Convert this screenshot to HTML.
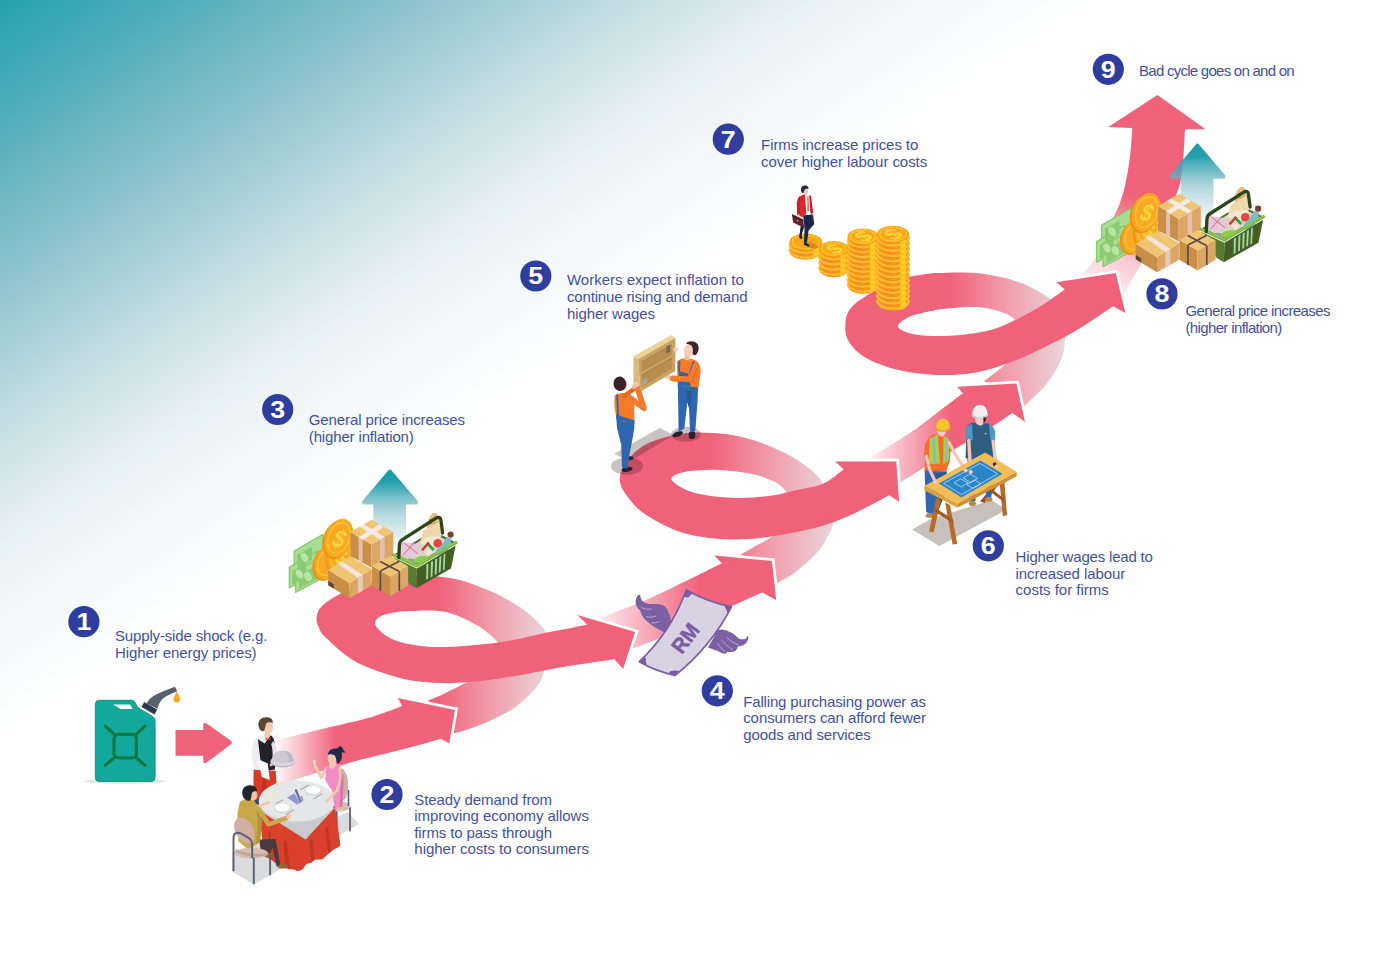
<!DOCTYPE html>
<html lang="en"><head><meta charset="utf-8"><title>Inflation cycle</title>
<style>
html,body{margin:0;padding:0;background:#fff;}
body{width:1379px;height:976px;overflow:hidden;}
svg{display:block}
text{font-family:"Liberation Sans",sans-serif;}
.t{font-size:15px;fill:#3F51A5;letter-spacing:-0.2px}
.n{font-size:23.5px;font-weight:bold;fill:#fff;text-anchor:middle}
</style></head><body>
<svg width="1379" height="976" viewBox="0 0 1379 976">
<defs>
<linearGradient id="bg" gradientUnits="userSpaceOnUse" x1="0" y1="0" x2="341.5" y2="508">
<stop offset="0" stop-color="#24A2AF"/><stop offset="0.185" stop-color="#56AFBC"/><stop offset="0.38" stop-color="#8DC3CD"/><stop offset="0.575" stop-color="#C3DDE3"/><stop offset="0.727" stop-color="#E6F0F3"/><stop offset="0.867" stop-color="#F5F9FA"/><stop offset="1" stop-color="#FFFFFF"/>
</linearGradient>
<linearGradient id="gA" gradientUnits="userSpaceOnUse" x1="274" y1="0" x2="337" y2="0"><stop offset="0" stop-color="#F0617A" stop-opacity="0"/><stop offset="1" stop-color="#F0617A" stop-opacity="1"/></linearGradient>
<linearGradient id="gB" gradientUnits="userSpaceOnUse" x1="438" y1="0" x2="548" y2="0"><stop offset="0" stop-color="#F0617A" stop-opacity="1"/><stop offset="0.5" stop-color="#F19FAC" stop-opacity="1"/><stop offset="1" stop-color="#EAD6DB" stop-opacity="1"/></linearGradient>
<linearGradient id="gC" gradientUnits="userSpaceOnUse" x1="598" y1="0" x2="700" y2="0"><stop offset="0" stop-color="#F0617A" stop-opacity="0.12"/><stop offset="1" stop-color="#F0617A" stop-opacity="1"/></linearGradient>
<linearGradient id="gD" gradientUnits="userSpaceOnUse" x1="710" y1="0" x2="834" y2="0"><stop offset="0" stop-color="#F0617A" stop-opacity="1"/><stop offset="0.5" stop-color="#F19FAC" stop-opacity="1"/><stop offset="1" stop-color="#EAD6DB" stop-opacity="1"/></linearGradient>
<linearGradient id="gE" gradientUnits="userSpaceOnUse" x1="872" y1="0" x2="952" y2="0"><stop offset="0" stop-color="#F0617A" stop-opacity="0.12"/><stop offset="1" stop-color="#F0617A" stop-opacity="1"/></linearGradient>
<linearGradient id="gF" gradientUnits="userSpaceOnUse" x1="950" y1="0" x2="1066" y2="0"><stop offset="0" stop-color="#F0617A" stop-opacity="1"/><stop offset="0.5" stop-color="#F19FAC" stop-opacity="1"/><stop offset="1" stop-color="#EAD6DB" stop-opacity="1"/></linearGradient>
<linearGradient id="gG" gradientUnits="userSpaceOnUse" x1="1092" y1="292" x2="1140" y2="200"><stop offset="0" stop-color="#F0617A" stop-opacity="0.05"/><stop offset="0.45" stop-color="#F0617A" stop-opacity="0.36"/><stop offset="1" stop-color="#F0617A" stop-opacity="1"/></linearGradient><linearGradient id="tealg" x1="0" y1="0" x2="0" y2="1">
<stop offset="0" stop-color="#1A9CAB"/><stop offset="0.16" stop-color="#22A0AE"/><stop offset="0.40" stop-color="#5EB0BE" stop-opacity="0.75"/><stop offset="0.55" stop-color="#7FBCC6" stop-opacity="0.6"/><stop offset="0.7" stop-color="#90C3CE" stop-opacity="0.45"/><stop offset="0.9" stop-color="#90C3CE" stop-opacity="0.2"/><stop offset="1" stop-color="#90C3CE" stop-opacity="0"/>
</linearGradient>
<g id="tealarrow">
<path d="M388.2,470.6 Q389.9,468.2 391.6,470.6 L417.3,500.6 Q419.4,504.6 415.4,504.6 H406 V548 H373.3 V504.6 H364.6 Q360.6,504.6 362.8,500.6 Z" fill="url(#tealg)"/>
</g>
<g id="goods">
<!-- bills -->
<g stroke="#7FC768" stroke-width="1.1" fill="#A9DD92" stroke-linejoin="round">
<path d="M294.1,551 L323.1,534.3 V555.1 L294.1,571.8 Z"/>
<path d="M289.2,567.3 L317.1,551.2 V572 L289.2,588.1 Z"/>
<path d="M295.6,571.7 L324.6,555 L330,556 V574 L295.6,592.6 Z"/>
</g>
<g fill="#8ACB72"><path d="M297.5,555 L312,546.6 V560 L297.5,568.4 Z"/><path d="M292.4,571 L306,563.2 V577 L292.4,584.8 Z"/><path d="M299,575.4 L318,564.4 V578 L299,588.8 Z"/></g>
<g fill="#B9E6A5"><ellipse cx="304.6" cy="557.4" rx="3.4" ry="5" transform="rotate(-30 304.6 557.4)"/><ellipse cx="299.4" cy="574" rx="3.2" ry="4.8" transform="rotate(-30 299.4 574)"/><ellipse cx="308" cy="576.6" rx="3.6" ry="5" transform="rotate(-30 308 576.6)"/></g>
<!-- coins -->
<g>
<ellipse cx="325.6" cy="563.8" rx="12.6" ry="17.6" transform="rotate(20 325.6 563.8)" fill="#EE9416"/>
<ellipse cx="327.6" cy="562.2" rx="12.4" ry="17.4" transform="rotate(20 327.6 562.2)" fill="#F9A825"/>
<ellipse cx="327.6" cy="562.2" rx="9.4" ry="13.8" transform="rotate(20 327.6 562.2)" fill="none" stroke="#FDC830" stroke-width="1.2"/>
<ellipse cx="338.6" cy="557" rx="12.6" ry="17.6" transform="rotate(20 338.6 557)" fill="#EE9416"/>
<ellipse cx="340.6" cy="555.4" rx="12.4" ry="17.4" transform="rotate(20 340.6 555.4)" fill="#F9A825"/>
<ellipse cx="340.6" cy="555.4" rx="9.4" ry="13.8" transform="rotate(20 340.6 555.4)" fill="none" stroke="#FDC830" stroke-width="1.2"/>
<text x="0" y="0" transform="translate(341.4 557) rotate(14) skewX(-12) scale(0.8 1)" font-size="21" font-weight="bold" fill="#FFD63E" text-anchor="middle" dominant-baseline="central">$</text>
<ellipse cx="336.8" cy="539.8" rx="13.8" ry="20" transform="rotate(20 336.8 539.8)" fill="#EE9416"/>
<ellipse cx="339" cy="538" rx="13.6" ry="19.8" transform="rotate(20 339 538)" fill="#F9A825"/>
<ellipse cx="339" cy="538" rx="10.4" ry="15.8" transform="rotate(20 339 538)" fill="none" stroke="#FDC830" stroke-width="1.3"/>
<text x="0" y="0" transform="translate(339.6 538.6) rotate(14) skewX(-12) scale(0.8 1)" font-size="25" font-weight="bold" fill="#FFD63E" text-anchor="middle" dominant-baseline="central">$</text>
</g>
<!-- box 1 tall -->
<path d="M350.4,532.1 L371.2,544.6 V567.4 L350.4,556.1 Z" fill="#C98F48"/>
<path d="M371.2,544.6 L393.3,532.1 V556.1 L371.2,567.4 Z" fill="#DCA765"/>
<path d="M350.4,532.1 L371.7,519.7 L393.3,532.1 L371.2,544.6 Z" fill="#F0C572"/>
<path d="M359.6,526.6 L363.8,524.3 L384.6,536.9 L380,539.5 Z M358.6,537.2 L379,524.3 L383.8,527 L362.6,540 Z" fill="#F8E9E4"/>
<path d="M358.6,537.2 L362.6,539.6 V563 L358.6,560.8 Z M380,539.6 L384.6,537 V561 L380,563.4 Z" fill="#E3C0AC"/>
<!-- basket -->
<g>
<!-- back rim & contents -->
<path d="M393.4,555 L432.9,530.6 L456,542.6 L417,566 Z" fill="#4D6E2A"/>
<path d="M397,555 L432.9,533 L452,543 L417,563.6 Z" fill="#D9D4C6"/>
<ellipse cx="433" cy="523.6" rx="5.6" ry="11" transform="rotate(12 433 523.6)" fill="#E9BC7E"/>
<path d="M428.6,520 L437.6,517.6 M428,524.5 L438.6,522 M428.4,529 L439,526.4" stroke="#C9965A" stroke-width="1" fill="none"/>
<path d="M422.8,530.8 L440.3,520.7 L441.4,536 L420,543 Z" fill="#EFD7AE"/>
<path d="M420,543 L428,536.6 L441.4,536 L432,548 Z" fill="#F5E8D2"/>
<path d="M402,541.9 L415.4,543.7 L420,552.9 L405.3,557.6 L398.6,551 Z" fill="#E8C6E0"/>
<path d="M404,543 L417.6,553.6 M413.4,543.6 L402.6,555.6" stroke="#D2544E" stroke-width="0.8" fill="none"/>
<path d="M427.9,541.8 L434.6,549 L428.6,556 L421,549.4 Z" fill="#F5E3D6"/>
<path d="M427.9,541.8 L434.6,549 L432.6,551 L426,544 Z" fill="#2E9E4A"/>
<path d="M427.9,541.8 L421,549.4 L423,551.2 L429.6,543.6 Z" fill="#D23B2E"/>
<circle cx="437.7" cy="543.2" r="4.3" fill="#E9443E"/>
<path d="M435.6,552.6 C437.6,546.6 442.6,546 446.6,536.4 L451.6,539 C449.6,548.6 446.6,553.6 440.6,557.6 Z" fill="#7DBAC2"/>
<circle cx="450.6" cy="534.6" r="3.1" fill="#7B3F2E"/>
<ellipse cx="421" cy="559.6" rx="7.6" ry="3.4" transform="rotate(-14 421 559.6)" fill="#8FCB4C"/>
<ellipse cx="410" cy="561" rx="4.4" ry="2.4" fill="#9A9EA0"/>
<!-- body -->
<path d="M393.6,557.6 L417,568.6 L416.3,588.2 L409.2,584 L394.6,559 Z" fill="#587C2F"/>
<path d="M417,568.6 L455.6,545.6 L451,568.6 L416.3,588.2 Z" fill="#435F24"/>
<path d="M426.4,564.6 L428.4,563.4 L428,578.8 L426.2,579.8 Z M431,561.9 L433,560.7 L432.4,576.4 L430.6,577.4 Z M435.2,559.4 L437.2,558.2 L436.6,574 L434.8,575 Z M439.4,556.9 L441.4,555.7 L440.6,571.7 L438.8,572.7 Z M443.6,554.4 L445.4,553.3 L444.6,569.4 L442.9,570.4 Z" fill="#A6D9A8"/>
<path d="M393.4,555 L417,566 L456,542.6" stroke="#7DB83F" stroke-width="3.2" fill="none" stroke-linejoin="round" stroke-linecap="round"/>
<path d="M393.4,554.2 L417,565.2 L456,541.8" stroke="#9BD155" stroke-width="1" fill="none" stroke-linejoin="round" stroke-linecap="round"/>
<!-- handle -->
<path d="M398.8,557.6 L399.4,545 Q399.6,541.4 402.8,539.4 L436,518.2 Q440.4,515.6 441,520.6 L442.6,533" stroke="#2B4518" stroke-width="3.3" fill="none" stroke-linejoin="round" stroke-linecap="round"/>
<path d="M402.6,538.4 L404.6,536.6 L407.6,534.8" stroke="#3E6A22" stroke-width="1" fill="none"/>
</g>
<!-- box 2 wide -->
<path d="M328.1,570 L349.5,582.9 V598.2 L328.1,585.2 Z" fill="#C98F48"/>
<path d="M349.5,582.9 L371.7,569 V585.6 L349.5,598.2 Z" fill="#DCA765"/>
<path d="M328.1,570 L350.4,556.6 L371.7,569 L349.5,582.9 Z" fill="#F0C572"/>
<path d="M337.5,563.5 L341.7,561.2 L362.9,575 L357.8,577.8 Z" fill="#F8E3E0"/>
<path d="M357.8,577.8 L362.9,575 V590.6 L357.8,593.5 Z" fill="#E8C9B4"/>
<path d="M328.3,581 L333.8,584.3 V588.4 L328.3,585.2 Z" fill="#5A4632"/>
<!-- box 3 small -->
<path d="M371.9,565.8 L390.1,576.4 V596.3 L371.9,585.6 Z" fill="#C98F48"/>
<path d="M390.1,576.4 L408.1,566.3 V585.6 L390.1,596.3 Z" fill="#DCA765"/>
<path d="M371.9,565.8 L390.1,556.1 L408.1,566.3 L390.1,576.4 Z" fill="#F0C572"/>
<path d="M380.2,561.4 L399.3,571.6 M380.4,570.9 L399.3,561.2 M380.4,570.9 V591 M399.3,571.6 V591" stroke="#5B4B4E" stroke-width="1.7" fill="none"/>
</g>

</defs>
<rect x="0" y="0" width="1379" height="976" fill="url(#bg)"/>
<g id="ribbon">
<path d="M452.0,734.0 C455.3,733.0 465.0,730.4 471.7,728.0 C478.4,725.6 485.0,723.2 492.2,719.8 C499.4,716.4 508.0,712.3 514.8,707.5 C521.6,702.7 528.6,696.2 533.2,691.1 C537.8,686.0 540.1,682.8 542.4,676.8 C544.7,670.8 546.4,662.2 547.0,655.0 C547.6,647.8 547.2,639.0 545.9,633.8 C544.6,628.5 543.1,627.6 539.3,623.5 C535.5,619.4 529.1,613.6 523.0,609.2 C516.9,604.8 509.3,600.5 502.5,596.9 C495.7,593.3 488.8,590.4 482.0,587.7 C475.2,585.0 468.3,582.3 461.5,580.5 C454.7,578.7 447.9,577.6 441.0,576.8 C434.1,576.0 426.2,575.6 420.0,575.5 C413.8,575.4 406.7,575.8 404.0,575.9 L404.0,611.4 C406.7,611.3 414.5,610.7 420.0,610.6 C425.5,610.5 431.7,610.2 436.9,610.7 C442.1,611.2 446.1,612.0 451.2,613.6 C456.3,615.2 462.5,617.8 467.6,620.3 C472.7,622.8 477.9,625.6 482.0,628.4 C486.1,631.1 489.4,634.2 492.2,636.8 C495.0,639.4 497.2,641.0 499.0,644.0 C500.8,647.0 503.5,651.0 503.0,655.0 C502.5,659.0 501.6,663.7 496.0,668.0 C490.4,672.3 476.8,677.4 469.7,680.9 C462.6,684.4 458.1,686.7 453.3,689.1 C448.5,691.5 445.2,693.3 441.0,695.2 C436.8,697.1 430.2,699.6 428.0,700.5 Z" fill="url(#gB)"/>
<path d="M772.0,585.0 C772.9,584.6 773.3,584.9 777.3,582.7 C781.3,580.5 789.1,577.0 795.8,571.9 C802.5,566.8 812.1,558.5 817.5,552.3 C822.9,546.1 825.9,539.6 828.4,534.9 C830.9,530.2 831.9,529.0 832.8,524.0 C833.6,519.0 835.1,511.7 833.5,505.0 C831.9,498.3 826.4,489.3 823.0,483.8 C819.6,478.3 818.5,476.3 813.2,471.8 C807.9,467.3 799.7,461.3 791.4,456.6 C783.1,451.9 773.4,447.1 763.2,443.5 C753.1,439.9 741.4,436.6 730.5,434.8 C719.6,433.0 705.6,432.8 697.9,432.6 C690.1,432.4 686.3,433.4 684.0,433.6 L684.0,470.9 C686.3,470.8 691.9,470.4 697.9,470.3 C703.9,470.2 710.6,469.4 719.7,470.0 C728.8,470.6 743.2,472.1 752.3,474.0 C761.3,475.9 768.5,478.9 774.0,481.6 C779.5,484.3 782.3,487.2 785.0,490.3 C787.7,493.4 789.2,495.1 790.0,500.0 C790.8,504.9 793.0,513.9 790.0,520.0 C787.0,526.1 778.2,532.0 771.9,536.6 C765.6,541.2 757.9,544.7 752.3,547.9 C746.6,551.1 740.4,554.6 738.0,556.0 Z" fill="url(#gD)"/>
<path d="M1022.0,408.0 C1022.8,407.3 1022.8,407.7 1026.9,403.7 C1031.0,399.7 1040.8,391.3 1046.5,384.1 C1052.2,376.9 1057.8,367.6 1060.8,360.6 C1063.8,353.6 1064.3,348.7 1064.8,342.3 C1065.2,335.9 1064.8,328.1 1063.5,322.0 C1062.2,315.9 1060.6,310.7 1056.9,305.8 C1053.2,300.9 1048.2,296.9 1041.2,292.7 C1034.2,288.5 1026.0,284.2 1015.1,280.9 C1004.2,277.6 989.0,274.4 975.9,273.1 C962.8,271.8 946.1,272.8 936.8,273.1 C927.5,273.5 922.8,274.9 920.0,275.2 L920.0,313.4 C922.8,312.8 927.5,310.8 936.8,309.7 C946.1,308.6 965.0,306.7 975.9,307.1 C986.8,307.5 995.6,310.1 1002.1,312.3 C1008.6,314.5 1012.0,316.8 1015.1,320.1 C1018.2,323.4 1020.2,327.0 1021.0,332.0 C1021.8,337.0 1023.1,344.1 1020.0,350.0 C1016.9,355.9 1008.1,362.0 1002.1,367.2 C996.1,372.4 987.0,378.7 984.0,381.0 Z" fill="url(#gF)"/>
<path d="M1076.0,281.0 C1076.8,280.0 1078.1,278.4 1081.1,274.9 C1084.1,271.4 1090.0,266.2 1094.0,260.1 C1098.0,254.0 1101.6,245.4 1105.0,238.0 C1108.4,230.6 1111.8,221.7 1114.3,215.9 C1116.8,210.1 1118.0,208.2 1119.8,203.0 C1121.6,197.8 1123.6,192.2 1125.3,184.5 C1127.0,176.8 1128.7,166.3 1129.9,156.9 C1131.1,147.5 1132.0,132.8 1132.4,128.0 L1108.2,126.9 L1157.4,95.1 L1205.6,129.2 L1185.0,129.2 C1184.7,133.8 1184.1,148.3 1183.4,156.9 C1182.7,165.5 1182.0,174.2 1180.6,180.9 C1179.2,187.7 1177.9,190.1 1175.1,197.4 C1172.3,204.8 1168.2,216.2 1164.0,225.0 C1159.8,233.8 1154.0,243.2 1150.0,250.0 C1146.0,256.8 1144.0,259.3 1140.0,266.0 C1136.0,272.7 1129.5,283.7 1126.0,290.0 C1122.5,296.3 1120.2,301.7 1119.0,304.0 Z" fill="url(#gG)"/>
<path d="M397.8,698.1 L455.0,710.0 L449.2,743.4 Z" fill="#fff" stroke="#fff" stroke-width="5.5" stroke-linejoin="miter"/>
<path d="M268.0,743.0 C269.6,742.5 269.1,742.3 277.4,740.1 C285.7,737.9 304.0,733.4 318.0,730.0 C332.0,726.6 350.3,722.7 361.5,719.8 C372.7,716.9 378.2,714.7 385.0,712.4 C391.8,710.1 399.2,707.0 402.1,705.9 L397.8,698.1 L455.0,710.0 L449.2,743.4 L441.0,738.7 C435.0,740.4 420.7,744.7 405.0,748.8 C389.3,752.9 364.5,758.5 347.0,763.4 C329.5,768.3 311.5,774.2 300.0,778.0 C288.5,781.8 281.7,784.7 278.0,786.0 Z" fill="url(#gA)"/>
<path d="M714.2,555.5 L771.9,561.0 L776.2,600.1 Z" fill="#fff" stroke="#fff" stroke-width="5.5" stroke-linejoin="miter"/>
<path d="M596.0,619.5 C597.1,619.0 593.9,620.1 602.4,616.8 C610.9,613.4 632.3,605.8 647.0,599.4 C661.7,593.0 678.0,584.7 690.5,578.7 C703.0,572.7 716.6,565.8 721.8,563.2 L714.2,555.5 L771.9,561.0 L776.2,600.1 L762.1,592.5 C756.7,594.9 741.7,601.6 729.7,607.0 C717.7,612.4 701.6,619.8 690.0,625.0 C678.4,630.2 669.0,634.3 660.0,638.0 C651.0,641.7 642.8,644.8 636.1,647.3 C629.4,649.8 622.7,652.0 620.0,653.0 Z" fill="url(#gC)"/>
<path d="M957.1,386.8 L1016.4,383.6 L1025.0,422.0 Z" fill="#fff" stroke="#fff" stroke-width="5.5" stroke-linejoin="miter"/>
<path d="M872.0,456.5 C873.2,455.8 872.9,456.1 879.3,452.1 C885.7,448.1 901.0,439.0 910.6,432.5 C920.2,426.0 928.1,419.4 936.8,412.9 C945.5,406.4 958.5,396.6 962.9,393.3 L957.1,386.8 L1016.4,383.6 L1025.0,422.0 L1012.5,412.9 C1008.6,415.5 999.4,422.0 989.0,428.5 C978.6,435.0 964.4,443.3 950.0,452.0 C935.6,460.7 912.8,474.7 902.8,480.8 C892.8,486.9 892.1,487.2 890.0,488.5 Z" fill="url(#gE)"/>
<path d="M577.4,615.1 L635.1,632.0 L623.1,669.0 Z" fill="#fff" stroke="#fff" stroke-width="5.5" stroke-linejoin="miter"/>
<path d="M420.0,575.5 C416.7,575.6 408.3,574.9 400.0,576.0 C391.7,577.1 380.0,579.0 370.0,582.0 C360.0,585.0 348.0,590.0 340.0,594.0 C332.0,598.0 325.9,602.2 322.0,606.0 C318.1,609.8 317.1,613.2 316.6,616.9 C316.1,620.6 317.3,624.4 319.0,628.0 C320.7,631.6 320.6,633.0 326.7,638.6 C332.8,644.2 343.6,655.3 355.7,661.8 C367.8,668.3 386.1,674.3 399.2,677.8 C412.2,681.3 422.4,682.0 434.0,682.7 C445.6,683.4 454.3,683.4 468.8,682.1 C483.3,680.8 504.6,677.5 521.0,674.9 C537.5,672.2 551.9,668.8 567.5,666.2 C583.1,663.6 606.6,660.4 614.4,659.2 L623.1,669.0 L635.1,632.0 L577.4,615.1 L587.2,624.4 C583.3,625.2 570.9,627.9 564.0,629.3 C557.1,630.7 552.7,631.3 545.9,632.7 C539.1,634.1 531.0,636.2 523.0,637.9 C515.0,639.5 507.2,641.3 498.0,642.6 C488.8,643.9 477.1,645.0 467.6,645.7 C458.1,646.5 448.9,647.1 441.0,647.1 C433.1,647.1 427.3,646.9 420.5,646.0 C413.7,645.1 405.9,643.8 400.0,642.0 C394.1,640.2 389.2,638.0 385.0,635.0 C380.8,632.0 375.7,627.3 375.0,624.1 C374.3,620.9 377.4,618.0 381.0,616.0 C384.6,614.0 391.3,613.1 396.3,612.2 C401.3,611.3 406.9,611.1 410.8,610.8 C414.8,610.5 418.5,610.5 420.0,610.5 Z" fill="#F0617A"/>
<path d="M835.0,461.6 L896.3,461.6 L899.1,501.8 Z" fill="#fff" stroke="#fff" stroke-width="5.5" stroke-linejoin="miter"/>
<path d="M697.9,432.6 C693.2,433.2 679.1,433.8 670.0,436.0 C660.9,438.2 650.5,441.7 643.5,445.7 C636.5,449.7 631.9,454.9 628.0,460.0 C624.1,465.1 620.7,470.9 620.0,476.1 C619.3,481.3 620.0,485.2 623.9,491.4 C627.8,497.6 634.8,506.6 643.5,513.1 C652.2,519.6 665.2,526.3 676.1,530.5 C687.0,534.7 697.9,536.6 708.8,538.1 C719.7,539.6 730.5,539.6 741.4,539.2 C752.3,538.9 761.3,538.0 774.0,536.0 C786.7,534.0 804.8,530.8 817.5,527.3 C830.2,523.8 838.2,520.6 850.2,515.3 C862.2,510.0 882.8,498.6 889.3,495.3 L899.1,501.8 L896.3,461.6 L835.0,461.6 L843.7,469.2 C840.2,471.6 831.0,480.3 823.0,483.8 C815.0,487.3 804.0,488.4 795.8,490.3 C787.6,492.2 783.1,494.0 774.0,495.3 C764.9,496.6 752.3,497.8 741.4,497.9 C730.5,498.0 717.9,497.0 708.8,495.7 C699.7,494.4 693.1,492.8 687.0,490.3 C680.9,487.8 674.0,483.1 672.0,480.5 C670.0,477.9 672.5,476.5 675.0,475.0 C677.5,473.5 683.2,472.2 687.0,471.4 C690.8,470.6 696.1,470.5 697.9,470.3 Z" fill="#F0617A"/>
<path d="M1056.4,282.2 L1115.7,273.1 L1125.4,313.1 Z" fill="#fff" stroke="#fff" stroke-width="5.5" stroke-linejoin="miter"/>
<path d="M936.8,273.1 C930.7,274.1 910.9,275.7 900.0,279.0 C889.1,282.3 879.6,287.8 871.4,292.7 C863.1,297.6 854.9,302.9 850.5,308.4 C846.1,313.8 845.5,319.8 845.3,325.4 C845.1,331.0 845.7,336.9 849.2,342.3 C852.7,347.7 858.1,353.4 866.2,358.0 C874.3,362.6 885.8,367.0 897.6,369.8 C909.4,372.6 923.8,374.6 936.8,375.0 C949.8,375.4 962.8,374.8 975.9,372.4 C989.0,370.0 1002.0,365.6 1015.1,360.6 C1028.2,355.6 1043.4,347.7 1054.3,342.3 C1065.2,336.9 1070.6,334.0 1080.4,328.0 C1090.2,322.0 1107.6,309.9 1113.1,306.3 L1125.4,313.1 L1115.7,273.1 L1056.4,282.2 L1064.8,289.6 C1060.9,292.3 1049.5,300.7 1041.2,305.8 C1032.9,310.9 1023.8,316.0 1015.1,320.1 C1006.4,324.2 999.9,328.0 989.0,330.6 C978.1,333.2 962.0,335.2 949.8,335.8 C937.6,336.4 924.4,336.0 915.8,334.5 C907.2,333.0 898.9,329.8 898.0,326.7 C897.1,323.6 904.1,319.0 910.6,316.2 C917.1,313.4 932.4,310.8 936.8,309.7 Z" fill="#F0617A"/>
</g><use href="#tealarrow"/>
<use href="#tealarrow" transform="translate(807.5 -325.9)"/>
<g id="can">
<ellipse cx="124.8" cy="781.3" rx="41" ry="2.4" fill="#E3E4E4"/>
<path d="M146.8,703.4 C149.6,696.4 158,693 175.0,686.8 L177.3,691.3 C165,696.3 160,698.6 157.4,708.8 Z" fill="#55626E"/>
<path d="M144.2,702.0 L157.2,709.6 L154.6,714.6 L141.4,707.0 Z" fill="#2B3B52"/>
<path d="M99.3,700.3 H131.6 Q133.6,700.3 134.7,702.2 L137.8,707.6 L152.6,716.4 Q155.1,718 155.1,721 V777.4 Q155.1,781.4 151.1,781.4 H99.3 Q95.3,781.4 95.3,777.4 V704.3 Q95.3,700.3 99.3,700.3 Z" fill="#13A89E" stroke="#0E8F6B" stroke-width="0.9"/>
<path d="M113.1,704.6 H130.2 L132.6,708.9 H120.4 Z" fill="#fff"/>
<g fill="none" stroke="#12783F" stroke-width="3.2" stroke-linecap="round">
<rect x="114" y="734.3" width="22.4" height="23.6" rx="4.5"/>
<path d="M105.2,726.1 L115,735 M144.9,726.1 L135.4,735 M105.2,765.3 L115,757 M144.9,765.3 L135.4,757"/>
</g>
<path d="M176.8,691.3 C177.8,694.5 180.1,696.6 180.1,699.2 A3.3,3.3 0 0 1 173.5,699.2 C173.5,696.6 175.8,694.5 176.8,691.3 Z" fill="#F6A821"/>
<path d="M175.5,730 H203.2 V725.6 Q203.2,721.6 206.6,723.6 L230.6,740.4 Q233,742.4 230.6,744.4 L206.6,762.6 Q203.2,764.8 203.2,760.4 V755.8 H175.5 Z" fill="#F0617A"/>
</g>
<g id="tablescene">
<!-- floor shadow -->
<path d="M232,852 L232,871.5 L254,884.4 L359,824 L347.5,812 L329,821 L262,842 Z" fill="#D9DBDC"/>
<!-- woman's chair -->
<path d="M336.7,812 V824 M350,808 V830.5" stroke="#566079" stroke-width="1.8" fill="none" stroke-linecap="round"/>
<path d="M339,768 C345,768 348.5,776 348.2,786 C348,795 346,800 342,801 Z" fill="#CDB0A5"/>
<ellipse cx="340.5" cy="806.5" rx="9.5" ry="5" fill="#D9BDB0"/>
<path d="M348.5,790 V806" stroke="#566079" stroke-width="1.6"/>
<!-- waiter -->
<path d="M254,800.5 V806.5 H259 V798 Z" fill="#3E4A66"/>
<path d="M253.5,769.5 L275.6,770.6 L276.6,783 L271,786 L260,798.6 L253.5,800.6 Z" fill="#D83A27"/>
<path d="M262.5,771 L267,786 L262,796 Z" fill="#BF2F20"/>
<path d="M253.8,741.5 C256,738.5 262,736.5 266,736 L272.5,736.5 C274.8,738.5 275.6,745 275.8,753.6 L275,770.4 L254.4,769.4 C252,762 250.8,750 253.8,741.5 Z" fill="#EFEDF2"/>
<path d="M257.9,739.2 L264.6,743.5 L270.6,735.2 C273.5,737 274.6,741 274.8,745 L275,769.6 L261.8,771.2 L259.6,753.6 Z" fill="#22212A"/>
<path d="M264.2,735.5 L267.2,740.2 L270.6,735.2 L268.6,731.5 L265.2,732 Z" fill="#F2C5AD"/>
<path d="M265.6,737.6 L268,739.3 L270.6,737.2 L270.4,740.4 L268,739.3 L265.8,740.6 Z" fill="#E23A2A"/>
<ellipse cx="267.9" cy="727.6" rx="5.1" ry="5.9" fill="#F4C9B2"/>
<path d="M258.6,726.5 C257.5,720 262,716.8 267,717.2 C271.5,717.5 273.6,720.3 272.6,723.2 C270.5,722 267.5,722 266,723.8 C265.3,726.5 265.2,729.5 263.6,731.2 C261,731.3 259.2,729.5 258.6,726.5 Z" fill="#5C4336"/>
<path d="M257.9,759 L267.8,763.4 L269.8,780 L261.8,777 Z" fill="#FAF9FB"/>
<path d="M273.2,741 C276.6,745 277.6,753 276.8,760.5 L272.4,762.5 C273,755 272.6,748 271.2,744 Z" fill="#E5E2EA"/>
<path d="M276.6,760 L271,765 " stroke="#F2C5AD" stroke-width="2.6" stroke-linecap="round"/>
<!-- cloche -->
<ellipse cx="282.6" cy="762" rx="12.2" ry="5.4" fill="#B9B2C6"/>
<ellipse cx="282.6" cy="761.2" rx="12" ry="5" fill="#DAD5E0"/>
<path d="M271.6,760.8 C272.2,753.6 277,750.4 282.6,750.4 C288.4,750.4 293.2,753.8 293.8,760.6 C291,763.6 274.6,763.8 271.6,760.8 Z" fill="#CFC9D6"/>
<path d="M284,750.6 C289,751.4 292.8,754.6 293.8,760.6 C292.6,762 290.4,762.6 288.4,762.8 C289.6,758 288,753.6 284,750.6 Z" fill="#BDB6C8"/>
<!-- table cloth red -->
<path d="M259.3,812 L263.6,853.5 C266,859 270,858 273.5,861.5 C277,866 281,863 285,867 C289,871 293,868.5 296,870.4 C300,872 303,869.5 304.5,866.5 C307,862 310,864.5 312.5,861.5 C316,857.5 320,861 323.5,858.5 C327,855 329.5,852.5 332.5,850.5 C336,848 338.5,848 340.4,845.3 L335,806 Z" fill="#DA412C"/>
<path d="M283,840 L285.5,866.5 L290,868.5 L287,842 Z M309,842 L311.5,861.5 L314.5,860 L312,838 Z M325,828 L328.5,853.5 L331.5,851 L328,826 Z M268,830 L270.5,858 L273,860.5 L270.5,832 Z" fill="#C33522"/>
<path d="M260.5,811 L305.6,839.4 L334.6,808 Z" fill="#C7CBCD"/>
<ellipse cx="296.9" cy="801.1" rx="38.2" ry="20.6" fill="#E5E7E8"/>
<path d="M259,803 C262,814 280,821.6 297,821.7 C315,821.6 332,814 335,803 C333,816 316,823.6 297,823.7 C278,823.6 261,816 259,803 Z" fill="#CBCFD1"/>
<!-- table items -->
<ellipse cx="282.3" cy="808.2" rx="8.4" ry="4.7" fill="#C9CDD0"/><ellipse cx="282.3" cy="807.6" rx="7.6" ry="4.1" fill="#FFFFFF"/>
<ellipse cx="313" cy="790.8" rx="8.4" ry="4.7" fill="#C9CDD0"/><ellipse cx="313" cy="790.2" rx="7.6" ry="4.1" fill="#FFFFFF"/>
<path d="M287,797.6 L294.6,793.2 L300,803 L297,804.6 Z" fill="#8E99D6"/>
<path d="M294.6,789.8 L296.6,789 L301.6,801.6 L300,803 Z" fill="#5F6A8C"/>
<path d="M299,797 L302.2,795.4 L303.6,800.6 L301.6,802 Z" fill="#A79AC0"/>
<path d="M300.5,789.6 L309,784.8 M313.5,799 L322,793.6 M276,803.6 L283,800 M286,814.8 L294,809.6" stroke="#8F9499" stroke-width="0.9" fill="none"/>
<!-- woman -->
<path d="M326.6,768 L321.4,777.4 L315.6,767" stroke="#F4C7B3" stroke-width="3" fill="none" stroke-linecap="round" stroke-linejoin="round"/>
<path d="M312.6,760.5 L315.8,760 L315.4,764.5 L314.6,768.5 L313.8,764.8 Z" fill="#F1E6A8"/>
<path d="M326.4,766.6 C329,763.8 336,763 339.2,764.4 C342.6,770 343.8,777 343.5,783 L342.3,806.4 L334.8,809.2 L332,790.6 C329,786 326,782 325.2,779 Z" fill="#F28CC3"/>
<path d="M338,765 C342.6,770 343.8,777 343.5,783 L342.3,806.4 L339.4,807.5 C341,795 341,778 338,765 Z" fill="#DD6FAE"/>
<path d="M328.6,765.2 C330,769.5 333.5,770.5 336.6,764.2 L334.6,761.5 L330,762.4 Z" fill="#F4C7B3"/>
<path d="M339.6,768.5 C341,776 339.5,785 336.8,790.8 L326.4,801.2" stroke="#F4C7B3" stroke-width="2.8" fill="none" stroke-linecap="round" stroke-linejoin="round"/>
<ellipse cx="332.2" cy="758.8" rx="4.6" ry="5.6" fill="#F4C7B3"/>
<path d="M327.8,754.6 C328.5,750 333,747.8 337,748.8 L339.4,746.2 C341.5,746.3 342.8,747.6 343.2,749.4 L345.4,752.6 L341.5,752.4 C342.8,756.5 341.5,761.5 337.6,763.8 C336,761 336.5,757.5 334.6,755.2 C332.5,754 329.8,754 327.8,754.6 Z" fill="#1B2B49"/>
<!-- man -->
<path d="M259,839.5 L275.6,839 L280.6,866 L276.6,866.5 L272.6,848 L268,855 L261,852 Z" fill="#4B3B40"/>
<ellipse cx="283" cy="866.4" rx="5.2" ry="2.2" fill="#8C6B2C"/><ellipse cx="268.4" cy="855.3" rx="4.4" ry="2" fill="#8C6B2C"/>
<path d="M239.6,802.5 C243,798.8 250,798.2 254,800.2 L259,808.2 L261.8,821.8 L260,841.4 L249.2,850 L238.4,841.4 L237.4,814 Z" fill="#C8A84B"/>
<path d="M255,802 L259,808.2 L261.8,821.8 L260,841.4 L256,844.6 C258,830 258.5,815 255,802 Z" fill="#B39339"/>
<path d="M257,806.4 L268.6,824.4 L286.8,817.8" stroke="#C8A84B" stroke-width="4.6" fill="none" stroke-linecap="round" stroke-linejoin="round"/>
<circle cx="288.6" cy="816.6" r="2.5" fill="#F2C5AD"/>
<path d="M259,806 L268.4,802.6" stroke="#F2C5AD" stroke-width="2.4" stroke-linecap="round"/>
<path d="M268.6,793 H272.6 L272,799 L270.8,803.5 L269.8,799 Z" fill="#F3EDB5"/>
<ellipse cx="253.2" cy="795" rx="4.2" ry="5.2" fill="#F2C5AD"/>
<path d="M242.6,795.5 C241,789 245,785 250,785.2 C254.5,785.4 257.6,788 256.8,791.4 C254,790.6 252,791.6 251.6,794.4 C251.4,797 251,799.4 249.6,800.8 C246,800.8 243.4,798.6 242.6,795.5 Z" fill="#20252A"/>
<!-- man's chair -->
<ellipse cx="251.4" cy="853.2" rx="16.6" ry="5.2" fill="#D9BDB0"/>
<path d="M235.4,849 C240,852.6 262,855.6 267.6,852.4 L267.4,854.6 C262,858.6 240,856 235.4,851.4 Z" fill="#C4A598"/>
<path d="M234,826 C234,818.6 239.6,815.8 245,818.4 C250.6,821.4 254.4,828 254.4,835.6 C254.4,842.6 250.6,845 245.6,843 C239.6,840.2 234,833.6 234,826 Z" fill="#D2AFA2"/>
<path d="M233.5,870.4 V838 C233.5,832.8 237.6,831.6 242,834 L247.6,837.4 C251.6,839.6 252.2,841.6 252.2,845.4 V857.6" stroke="#566079" stroke-width="1.9" fill="none" stroke-linecap="round" stroke-linejoin="round"/>
<path d="M253.8,883.6 V858.2 M270.1,874.6 V855" stroke="#566079" stroke-width="1.9" fill="none" stroke-linecap="round"/>
</g>
<use href="#goods"/>
<use href="#goods" transform="translate(807.5 -325.9)"/>
<g id="rmnote">
<path d="M638.3,595.2 C635.6,597.2 634.8,602.6 636.8,606.6 C638,609 639.4,610.2 640.4,610.7 C640.4,612.8 643,617.6 645.5,620 C646.6,621.2 647.6,622 648.6,622.5 C650,624.4 655,627.6 658.8,629.2 L666,633.3 L670.6,622.5 C670.8,619 670.4,616 669,613.8 C667.6,610.4 666.6,608 665,606.6 C662,604.4 659,604.2 655.7,604.1 C652,604.2 648.6,604 645.5,603 C643.6,602.2 642.2,601 641.4,599.5 C640.6,598.2 640.3,596.8 640.4,595.4 C639.8,594.6 639,594.6 638.3,595.2 Z" fill="#7D5FA3"/>
<path d="M717.7,630.2 C719.6,629.4 721.4,629.2 723.3,629.7 C726.6,630.4 729.8,631.6 732.6,633.3 C735,635.2 737.4,637.6 739.7,638.9 C741.8,639.6 744,639.4 745.9,638.4 C746.8,637.6 747,636.6 747.4,635.8 C748.4,636.6 748.6,638 747.9,639.4 C747.4,641.2 746.4,642.8 744.9,644 C743,645.6 740.4,646.4 737.7,646.6 C737.6,648.2 736.8,649.6 735.6,650.7 C733.4,652 730.4,652.2 727.4,651.7 C726.8,652.8 726,653.6 724.9,653.8 C722.4,653.6 719.6,652.2 717.2,650.7 L714.1,649.7 L708,647.6 Z" fill="#7D5FA3"/>
<path d="M641.5,607.6 C644.6,609.4 648.4,609.6 651.4,609 M646.4,616.6 C649.4,617.6 653,617.2 655.6,616.2 M651.4,622.8 C654,623.4 657,622.8 659,621.6 M727,637.6 C730,640.6 734,643.6 738.6,645 M722.4,640.6 C725,644 728.6,647.6 732.6,649.6 M717.6,643.4 C719.6,646.4 722,649.4 724.6,651" stroke="#C9B9E2" stroke-width="0.8" fill="none" stroke-linecap="round"/>
<path d="M639.3,661.7 Q671.3,631.4 686.3,590 Q709,602.6 731.5,606.8 Q711.4,646 675.2,675.3 Q656.5,671.6 639.3,661.7 Z" fill="#D8D2E2" stroke="#7A5CA6" stroke-width="1.7" stroke-linejoin="round"/>
<path d="M686.3,590 L684,596.6 C686.6,598 689,597.6 690,595.4 C691.4,594.8 692,594 692,593 Z M731.5,606.8 L725,605.4 C724.6,607.4 725.4,608.6 726.6,609.4 C726.6,611.6 727.6,612.8 728.6,613 Z M639.3,661.7 L644.4,656.4 C646,658 646.4,660 645.6,661.6 C646.4,662.8 646.6,664 646.2,665.4 Z M675.2,675.3 L668.4,673.8 C669.4,671.6 671.4,670.6 673.4,670.8 C675,670 677,670.4 679.6,671.6 Z" fill="#7A5CA6"/>
<text x="0" y="0" transform="translate(685 638) rotate(-53) scale(0.95 1)" font-size="21" font-weight="bold" fill="#7A5CA6" stroke="#7A5CA6" stroke-width="0.5" text-anchor="middle" dominant-baseline="central">RM</text>
</g>
<g id="workers">
<g fill="#3C1E22" fill-opacity="0.27">
<path d="M613.9,453.8 L659.8,428 L673.7,434.9 L630.2,461.1 Z"/>
<ellipse cx="627" cy="466.2" rx="16" ry="8.6"/>
<ellipse cx="686" cy="434.2" rx="14.8" ry="7.4"/>
</g>
<!-- worker R -->
<ellipse cx="677.6" cy="434.2" rx="5.6" ry="2.5" transform="rotate(-20 677.6 434.2)" fill="#26222A"/>
<ellipse cx="692" cy="435" rx="3.4" ry="4" fill="#26222A"/>
<path d="M677.8,384 L698.2,385.6 L697.6,400 L695.3,431 L690.1,432.6 L689,408 L687.4,402 L684.3,428.6 L678.6,431.8 L678.2,404 Z" fill="#2F66B0"/>
<path d="M689,408 L687.4,402 L686.4,390 L692,392 Z" fill="#275796"/>
<path d="M676.8,362 C679,359 683,358.2 686.8,358.4 C691,358.2 695.6,359.6 697.6,362 C700,365.4 701,369 700.7,372 L698.4,387.6 L677.8,385.8 Z" fill="#F47B2A"/>
<path d="M678.9,371 L687.8,373.4 L691,386.8 L677.8,385.8 Z" fill="#2F66B0"/>
<path d="M679.6,360.6 L678.9,371.6 M693.6,361.6 L689.6,374.6" stroke="#2F66B0" stroke-width="1.8" fill="none"/>
<path d="M695.4,365.4 L690.6,379.4 L672.4,378.4" stroke="#F47B2A" stroke-width="5.6" fill="none" stroke-linecap="round" stroke-linejoin="round"/>
<path d="M695.4,365.4 L690.6,379.4 L672.4,378.4" stroke="#E56A1E" stroke-width="1" fill="none" stroke-linecap="round" stroke-linejoin="round" transform="translate(1.6 2.6)"/>
<circle cx="667.8" cy="376.6" r="2.7" fill="#F4C7B3"/>
<path d="M684.6,353 L690,354 L689.6,360.6 L684.6,360 Z" fill="#EDB9A2"/>
<ellipse cx="688.8" cy="350.4" rx="4.9" ry="6.2" fill="#F6CDBA"/>
<path d="M686,343.6 C688,340.8 694,340.4 697,343.6 C699.6,346.6 699,351.6 696,354.8 C694.4,355.6 693.2,355 692.6,353.6 C693.4,350.6 693,347.6 691.4,345.4 C689.6,344.4 687.6,344.2 686,343.6 Z" fill="#3B2226"/>
<!-- cabinet -->
<path d="M633.5,356.2 L671.2,334.9 L675.3,337.9 L638,359.2 Z" fill="#EAD49A"/>
<path d="M633.5,356.2 L638,359.2 L640.6,391.5 L633.5,386.6 Z" fill="#D9BC78"/>
<path d="M638,359.2 L675.3,337.9 V371 L640.6,391.5 Z" fill="#C9A160"/>
<path d="M641.7,362 L672,344.8 V354.6 L641.7,371.8 Z M641.7,375.1 L672,357.9 V368.5 L642.5,386.6 Z" fill="#B88D4E"/>
<path d="M641.7,362 L672,344.8 M641.7,375.1 L672,357.9" stroke="#A67C40" stroke-width="0.9" fill="none"/>
<path d="M666.4,346.6 L670,344.6 V351.6 L666.4,353.6 Z" fill="#6E6A62"/><path d="M642.6,380.4 L647.4,377.6 V382.6 L642.6,385.4 Z" fill="#A9AAA6"/>
<circle cx="675.6" cy="349.6" r="2.3" fill="#F4C7B3"/>
<!-- worker L -->
<ellipse cx="630.2" cy="458" rx="3.2" ry="1.8" fill="#26222A"/>
<ellipse cx="627" cy="469.4" rx="5.6" ry="2.4" transform="rotate(-10 627 469.4)" fill="#26222A"/>
<path d="M616,415 L634.4,420 L634.3,428 L633,436 L628.6,459.6 L627.6,468.4 L622,467.8 L621.2,444.8 L617.1,428.4 Z" fill="#2F66B0"/>
<path d="M614.7,395.4 C617,393 623,392.6 627.8,393.1 L634.3,400.5 V421.4 L623.7,421.8 L616,415.2 C614.4,409 614,401 614.7,395.4 Z" fill="#F47B2A"/>
<path d="M616,414.6 L634.4,420.4 V424 L616.4,419 Z" fill="#2F66B0"/>
<path d="M617.1,394.8 L618,416" stroke="#2F66B0" stroke-width="1.9" fill="none"/>
<path d="M627.8,396 L644,408.4 L637.4,388" stroke="#F47B2A" stroke-width="5.6" fill="none" stroke-linecap="round" stroke-linejoin="round"/>
<path d="M624,396 L634,389" stroke="#E56A1E" stroke-width="4.4" fill="none" stroke-linecap="round"/>
<circle cx="636.4" cy="384.6" r="2.6" fill="#F4C7B3"/><circle cx="634.2" cy="387" r="2.2" fill="#EDB9A2"/>
<ellipse cx="623.6" cy="385.4" rx="3.6" ry="5.4" fill="#F6CDBA"/>
<ellipse cx="619.9" cy="383.8" rx="6.4" ry="7.2" transform="rotate(-12 619.9 383.8)" fill="#3B2226"/>
</g>
<g id="coinstacks">
<path d="M789.4,241.9 V251.3 A16.4,8.5 0 0 0 822.2,251.3 V241.9 Z" fill="#F7941D"/>
<path d="M813.3,249.4 V258.8 L818.9,256.4 V247.0 Z" fill="#FFD21F"/>
<path d="M796.8,249.0 V258.4 L805.0,259.8 V250.4 Z" fill="#F58A1F" fill-opacity="0.7"/>
<path d="M789.4,244.5 A16.4,8.5 0 0 0 822.2,244.5 M789.4,249.2 A16.4,8.5 0 0 0 822.2,249.2" stroke="#FFBE2E" stroke-width="2.0" fill="none"/>
<ellipse cx="805.8" cy="241.9" rx="16.4" ry="8.5" fill="#F9A61A"/>
<ellipse cx="805.8" cy="241.9" rx="13.4" ry="6.8" fill="none" stroke="#FFC52E" stroke-width="1.3"/>
<path d="M819.2,248.8 V269.5 A14.6,7.7 0 0 0 848.4,269.5 V248.8 Z" fill="#F7941D"/>
<path d="M840.5,255.6 V276.3 L845.5,274.1 V253.4 Z" fill="#FFD21F"/>
<path d="M825.8,255.2 V275.9 L833.1,277.2 V256.5 Z" fill="#F58A1F" fill-opacity="0.7"/>
<path d="M819.2,251.6 A14.6,7.7 0 0 0 848.4,251.6 M819.2,256.8 A14.6,7.7 0 0 0 848.4,256.8 M819.2,262.0 A14.6,7.7 0 0 0 848.4,262.0 M819.2,267.2 A14.6,7.7 0 0 0 848.4,267.2" stroke="#FFBE2E" stroke-width="2.2" fill="none"/>
<ellipse cx="833.8" cy="248.8" rx="14.6" ry="7.7" fill="#F9A61A"/>
<ellipse cx="833.8" cy="248.8" rx="12.0" ry="6.2" fill="none" stroke="#FFC52E" stroke-width="1.3"/>
<text transform="translate(834.3 248.8) scale(1 0.58) rotate(-35)" font-size="24" font-weight="bold" fill="#FFD43A" text-anchor="middle" dominant-baseline="central">$</text>
<path d="M847.6,236.5 V285.7 A15.4,8.1 0 0 0 878.4,285.7 V236.5 Z" fill="#F7941D"/>
<path d="M870.1,243.7 V292.9 L875.3,290.6 V241.4 Z" fill="#FFD21F"/>
<path d="M854.5,243.3 V292.5 L862.2,293.8 V244.6 Z" fill="#F58A1F" fill-opacity="0.7"/>
<path d="M847.6,239.2 A15.4,8.1 0 0 0 878.4,239.2 M847.6,244.1 A15.4,8.1 0 0 0 878.4,244.1 M847.6,249.0 A15.4,8.1 0 0 0 878.4,249.0 M847.6,254.0 A15.4,8.1 0 0 0 878.4,254.0 M847.6,258.9 A15.4,8.1 0 0 0 878.4,258.9 M847.6,263.8 A15.4,8.1 0 0 0 878.4,263.8 M847.6,268.7 A15.4,8.1 0 0 0 878.4,268.7 M847.6,273.6 A15.4,8.1 0 0 0 878.4,273.6 M847.6,278.6 A15.4,8.1 0 0 0 878.4,278.6 M847.6,283.5 A15.4,8.1 0 0 0 878.4,283.5" stroke="#FFBE2E" stroke-width="2.1" fill="none"/>
<ellipse cx="863.0" cy="236.5" rx="15.4" ry="8.1" fill="#F9A61A"/>
<ellipse cx="863.0" cy="236.5" rx="12.6" ry="6.5" fill="none" stroke="#FFC52E" stroke-width="1.3"/>
<text transform="translate(863.5 236.5) scale(1 0.58) rotate(-35)" font-size="26" font-weight="bold" fill="#FFD43A" text-anchor="middle" dominant-baseline="central">$</text>
<path d="M876.9,234.2 V302.6 A16.1,8.5 0 0 0 909.1,302.6 V234.2 Z" fill="#F7941D"/>
<path d="M900.4,241.7 V310.1 L905.9,307.7 V239.3 Z" fill="#FFD21F"/>
<path d="M884.1,241.3 V309.7 L892.2,311.1 V242.7 Z" fill="#F58A1F" fill-opacity="0.7"/>
<path d="M876.9,237.1 A16.1,8.5 0 0 0 909.1,237.1 M876.9,242.4 A16.1,8.5 0 0 0 909.1,242.4 M876.9,247.6 A16.1,8.5 0 0 0 909.1,247.6 M876.9,252.9 A16.1,8.5 0 0 0 909.1,252.9 M876.9,258.1 A16.1,8.5 0 0 0 909.1,258.1 M876.9,263.4 A16.1,8.5 0 0 0 909.1,263.4 M876.9,268.7 A16.1,8.5 0 0 0 909.1,268.7 M876.9,273.9 A16.1,8.5 0 0 0 909.1,273.9 M876.9,279.2 A16.1,8.5 0 0 0 909.1,279.2 M876.9,284.4 A16.1,8.5 0 0 0 909.1,284.4 M876.9,289.7 A16.1,8.5 0 0 0 909.1,289.7 M876.9,295.0 A16.1,8.5 0 0 0 909.1,295.0 M876.9,300.2 A16.1,8.5 0 0 0 909.1,300.2" stroke="#FFBE2E" stroke-width="2.2" fill="none"/>
<ellipse cx="893.0" cy="234.2" rx="16.1" ry="8.5" fill="#F9A61A"/>
<ellipse cx="893.0" cy="234.2" rx="13.2" ry="6.8" fill="none" stroke="#FFC52E" stroke-width="1.3"/>
<text transform="translate(893.5 234.2) scale(1 0.58) rotate(-35)" font-size="27" font-weight="bold" fill="#FFD43A" text-anchor="middle" dominant-baseline="central">$</text>
</g>
<g id="bizman">
<ellipse cx="812" cy="245.6" rx="6.4" ry="2.4" fill="#D78A1C" transform="rotate(18 812 245.6)"/>
<path d="M804.6,225.7 L801.5,235 L799.6,234 L801,224 Z" fill="#16203C"/>
<ellipse cx="800.6" cy="236.4" rx="1.5" ry="2.6" transform="rotate(-15 800.6 236.4)" fill="#16203C"/>
<path d="M803.1,215.3 L813,214.2 L814.2,224.2 L808.6,230.4 L807,242.8 L803.9,242.8 L804.6,228 Z" fill="#1B2748"/>
<ellipse cx="806.6" cy="244.6" rx="3.2" ry="1.3" transform="rotate(25 806.6 244.6)" fill="#16203C"/>
<path d="M805.2,194.8 L809.4,195.6 L810.2,213 L806.4,213.6 Z" fill="#FFFFFF"/>
<path d="M807.5,196 L808.4,196 L808.7,211 L807.6,211 Z" fill="#E0262C"/>
<path d="M799.2,196.5 L804.8,194 L806.4,213.6 L803.1,217.4 L797.7,215 L796.6,202.7 Z" fill="#E0262C"/>
<path d="M809.2,195 L811,196 L813.2,212.8 L810.4,214.4 Z" fill="#C81F26"/>
<path d="M806,212.6 L810.4,212 L810.6,214.4 L806.2,215 Z" fill="#FFFFFF"/>
<path d="M799,199 L798.2,214.6" stroke="#C81F26" stroke-width="2.6" stroke-linecap="round"/>
<path d="M792,214.2 L803.1,219.6 L804.3,228 L793.1,222.6 Z" fill="#6B2232"/>
<path d="M792,214.2 L803.1,219.6 L803.4,221.8 L792.3,216.4 Z" fill="#4F1826"/>
<circle cx="797.6" cy="220.8" r="0.8" fill="#F2B638"/>
<circle cx="798.3" cy="215.6" r="1.3" fill="#F4C7B3"/><circle cx="813.6" cy="215.2" r="1.1" fill="#F4C7B3"/>
<ellipse cx="805.5" cy="191.2" rx="2.6" ry="3.2" fill="#F4C7B3"/>
<path d="M801,190.4 C800.6,187 803,185.4 805.6,185.6 C808,185.8 809,187.4 808.4,188.8 C806.6,188.4 805,188.8 804.4,190 C804,191.4 803.6,192.6 802.8,193.2 C801.8,192.8 801.2,191.6 801,190.4 Z" fill="#1B2A4A"/>
</g><g id="builders">
<path d="M912.3,529.4 L939.3,546.1 L1006.6,509.8 L991.8,499.9 L931.1,518.8 Z" fill="#C7C0BD"/>
<!-- back legs of table -->
<path d="M994.6,484 L999,484 L984.6,503 L980,501.6 Z" fill="#8F521D"/>
<path d="M999.6,482 L1004.4,482 L1007,515 L1002.8,516.2 Z" fill="#B36B27"/>
<path d="M988.4,490.6 L990.4,488 L1004,498.6 L1003.6,501.8 Z" fill="#9C5B20"/>
<!-- builder 2 legs -->
<path d="M967,452 L978,452 L975.4,501 L969.6,502 Z M985,452 L994,452 L991.4,497 L986,498.6 Z" fill="#2F66B0"/>
<ellipse cx="972.4" cy="503.4" rx="3.6" ry="2.6" fill="#B58A4A"/><ellipse cx="988.8" cy="499.4" rx="3.6" ry="2.4" fill="#B58A4A"/>
<!-- builder 1 legs -->
<path d="M924.6,469.6 L946.7,471.2 L945.1,493.4 L938.5,509.8 L932.8,514 L926.2,512.2 L925.4,493.4 Z" fill="#2F66B0"/>
<path d="M936,474 L937.6,496 L934,510 L932.8,514 L938.5,509.8 L945.1,493.4 L946.7,471.2 Z" fill="#275796"/>
<ellipse cx="929.6" cy="515.6" rx="4" ry="2.5" fill="#B58A4A"/>
<!-- builder 2 upper -->
<path d="M966.4,428 C968,424.6 971,423 973.8,422.6 L988.5,423.4 C992,425 994.4,428.6 995.1,432.7 L994.3,454.4 L965.6,458.4 Z" fill="#2F5F80"/>
<path d="M966,428.6 C967.4,426 969.6,424.6 972,424 L973,440 L966.4,441.6 Z M989,423.6 C992.6,425.6 994.6,429 995.2,433 L995,442.6 L990.4,440 Z" fill="#4F9AC8"/>
<path d="M976.6,423 L980.4,426.6 L984.4,423 Z" fill="#6DB3DC"/>
<circle cx="985.6" cy="433.6" r="0.9" fill="#E8D34A"/>
<path d="M968.8,440.6 L969.8,458 L970.8,471.6" stroke="#F4C7B3" stroke-width="3.4" fill="none" stroke-linecap="round" stroke-linejoin="round"/>
<path d="M993,441.4 L994.6,454 L996.8,465.4" stroke="#F4C7B3" stroke-width="3.2" fill="none" stroke-linecap="round" stroke-linejoin="round"/>
<path d="M977.4,420 L982.6,420.6 L982.4,425 L977.6,424.6 Z" fill="#EDB9A2"/>
<ellipse cx="979.6" cy="419.4" rx="4.7" ry="5.5" fill="#F6CDBA"/>
<path d="M982.4,414.6 L986.2,415 C986.6,418.6 985.6,421.6 983.6,423.4 C983.6,420.4 983.2,417.4 982.4,414.6 Z" fill="#2A2226"/>
<path d="M972.4,414.6 C972,408.6 975.6,404.8 979.8,404.8 C984.4,404.8 987.6,408.6 987.4,414.4 C986,416.2 982.6,417 979.6,417 C976.4,417 973.6,416.2 972.4,414.6 Z" fill="#F1EFEF"/>
<path d="M972,414.2 C974,416.4 977.4,417.2 980.4,417 C983.4,416.8 986.4,416 987.6,414 C988.4,415 988,416 987,416.6 C984.6,418 981.6,418.6 979,418.6 C976,418.6 973,417.6 971.6,416 Z" fill="#D6D3D8"/>
<!-- builder 1 upper -->
<path d="M927,440.9 C929,436.6 932,434.6 935.2,434.3 L949.2,437.6 C950.6,442 950.6,452 950,460.6 L945.9,472 L924.6,470.4 L925.4,450.7 Z" fill="#F26C2A"/>
<path d="M929.6,438.6 L937.6,434.6 L940.2,463.4 L929,464 Z M943.6,436.4 L948.8,438.6 L949.2,459.6 L943.2,464.6 Z" fill="#A6D34B"/>
<path d="M932.4,438 L934.6,436.8 L936.6,463.4 L933.6,463.6 Z M945.4,437.6 L947,438.4 L947.2,461 L945.2,462.8 Z" fill="#8FB4C4"/>
<path d="M927.2,444 L926.2,455" stroke="#F26C2A" stroke-width="4.2" fill="none" stroke-linecap="round"/>
<path d="M926.4,456 L929,468 L935.2,481.6" stroke="#F4C7B3" stroke-width="3.2" fill="none" stroke-linecap="round" stroke-linejoin="round"/>
<path d="M949,442.6 L955,454 L965.4,470.2" stroke="#F4C7B3" stroke-width="3.2" fill="none" stroke-linecap="round" stroke-linejoin="round"/>
<path d="M938.8,431 L944,432 L943.6,437 L938.8,436 Z" fill="#EDB9A2"/>
<ellipse cx="941.6" cy="430.4" rx="4.6" ry="5.4" fill="#F6CDBA"/>
<path d="M936.2,427.6 C935.8,421.8 939,418.4 943.2,418.4 C947.6,418.6 950.2,422.4 949.6,427.6 C948,429.4 945.6,430 942.8,430 C940,430 937.6,429.2 936.2,427.6 Z" fill="#F6C52E"/>
<path d="M935.8,427.2 C938,429.4 940.6,430 943.2,430 C945.8,430 948.4,429.4 949.8,427.2 C950.4,428.4 950,429.6 949,430.2 C947,431.4 944.6,431.8 942.4,431.8 C939.8,431.8 937,431 935.6,429.4 Z" fill="#E0A91E"/>
<!-- table -->
<path d="M924.3,486 L957.4,503.5 V507.8 L924.3,490.2 Z" fill="#E0A040"/>
<path d="M957.4,503.5 L1016.7,472 V476.2 L957.4,507.8 Z" fill="#D08F35"/>
<path d="M924.3,486 L985.2,452.4 L1016.7,472 L957.4,503.5 Z" fill="#F3BC55"/>
<path d="M939,483.5 L980.3,460.6 L1002.5,473.7 L961.5,497.5 Z" fill="#2B86C9"/>
<path d="M943.6,483.4 L980,463.4 L997.6,473.8 L961.6,494.6 Z M954,482.6 L961,478.8 L968,483 L961,487 Z M963,477.8 L970,474 L977.6,478.4 L970.4,482.4 Z M967,484.6 L975,480.2 L981,483.8 L973,488.4 Z" stroke="#CFE6F7" stroke-width="0.7" fill="none"/>
<path d="M992.6,463.6 L995.6,462 L996.8,465 L993.8,466.6 Z" fill="#2A2A30"/>
<circle cx="935.4" cy="482" r="2.3" fill="#F4C7B3"/><circle cx="965.6" cy="470.6" r="2" fill="#F4C7B3"/><circle cx="970.8" cy="472" r="2.1" fill="#F4C7B3"/><circle cx="996.6" cy="466.4" r="2" fill="#F4C7B3"/>
<!-- front legs -->
<path d="M936.2,497.8 L941,500.2 L933.6,532.6 L929,531.4 Z" fill="#B36B27"/>
<path d="M945.2,502.6 L950,505 L957.2,544 L952.6,544.6 Z" fill="#B36B27"/>
<path d="M933.4,510.8 L934.2,507.2 L953,519.4 L953.6,523.6 Z" fill="#9C5B20"/>
</g>
<g id="badges" fill="#2F3E9E">
<circle cx="83.9" cy="621.7" r="15.6"/>
<circle cx="387" cy="794.5" r="15.6"/>
<circle cx="277.7" cy="409.5" r="15.6"/>
<circle cx="717.3" cy="690.8" r="15.6"/>
<circle cx="535.8" cy="276" r="15.6"/>
<circle cx="988.3" cy="545.8" r="15.6"/>
<circle cx="728.3" cy="139.2" r="15.6"/>
<circle cx="1162" cy="293.9" r="15.6"/>
<circle cx="1108.3" cy="69.3" r="15.6"/>
</g><g class="n">
<text transform="translate(83.9 630.1) scale(1.14 1)">1</text>
<text transform="translate(387 802.9) scale(1.14 1)">2</text>
<text transform="translate(277.7 417.9) scale(1.14 1)">3</text>
<text transform="translate(717.3 699.2) scale(1.14 1)">4</text>
<text transform="translate(535.8 284.4) scale(1.14 1)">5</text>
<text transform="translate(988.3 554.2) scale(1.14 1)">6</text>
<text transform="translate(728.3 147.6) scale(1.14 1)">7</text>
<text transform="translate(1162 302.3) scale(1.14 1)">8</text>
<text transform="translate(1108.3 77.7) scale(1.14 1)">9</text>
</g><g class="t">
<text x="115" y="640.9" textLength="152.2" lengthAdjust="spacing">Supply-side shock (e.g.</text>
<text x="115" y="657.5" textLength="141.4" lengthAdjust="spacing">Higher energy prices)</text>
<text x="414.3" y="804.5" textLength="137.6" lengthAdjust="spacing">Steady demand from</text>
<text x="414.3" y="821.1" textLength="174.4" lengthAdjust="spacing">improving economy allows</text>
<text x="414.3" y="837.7" textLength="137.6" lengthAdjust="spacing">firms to pass through</text>
<text x="414.3" y="854.4" textLength="174.4" lengthAdjust="spacing">higher costs to consumers</text>
<text x="308.8" y="425.2" textLength="156.1" lengthAdjust="spacing">General price increases</text>
<text x="308.8" y="441.8" textLength="104.8" lengthAdjust="spacing">(higher inflation)</text>
<text x="743.2" y="706.5" textLength="182.5" lengthAdjust="spacing">Falling purchasing power as</text>
<text x="743.2" y="723.1" textLength="182.5" lengthAdjust="spacing">consumers can afford fewer</text>
<text x="743.2" y="739.7" textLength="127.3" lengthAdjust="spacing">goods and services</text>
<text x="566.9" y="285.3" textLength="176.7" lengthAdjust="spacing">Workers expect inflation to</text>
<text x="566.9" y="301.9" textLength="180.4" lengthAdjust="spacing">continue rising and demand</text>
<text x="566.9" y="318.5" textLength="88" lengthAdjust="spacing">higher wages</text>
<text x="1015.6" y="561.9" textLength="137.1" lengthAdjust="spacing">Higher wages lead to</text>
<text x="1015.6" y="578.5" textLength="109.4" lengthAdjust="spacing">increased labour</text>
<text x="1015.6" y="595.1" textLength="92.9" lengthAdjust="spacing">costs for firms</text>
<text x="761.1" y="150.0" textLength="157" lengthAdjust="spacing">Firms increase prices to</text>
<text x="761.1" y="166.6" textLength="165.9" lengthAdjust="spacing">cover higher labour costs</text>
<text x="1185.4" y="316.0" textLength="144.8" lengthAdjust="spacing">General price increases</text>
<text x="1185.4" y="332.6" textLength="96.7" lengthAdjust="spacing">(higher inflation)</text>
<text x="1139" y="76.2" textLength="155.5" lengthAdjust="spacing">Bad cycle goes on and on</text>
</g>
</svg>
</body></html>
